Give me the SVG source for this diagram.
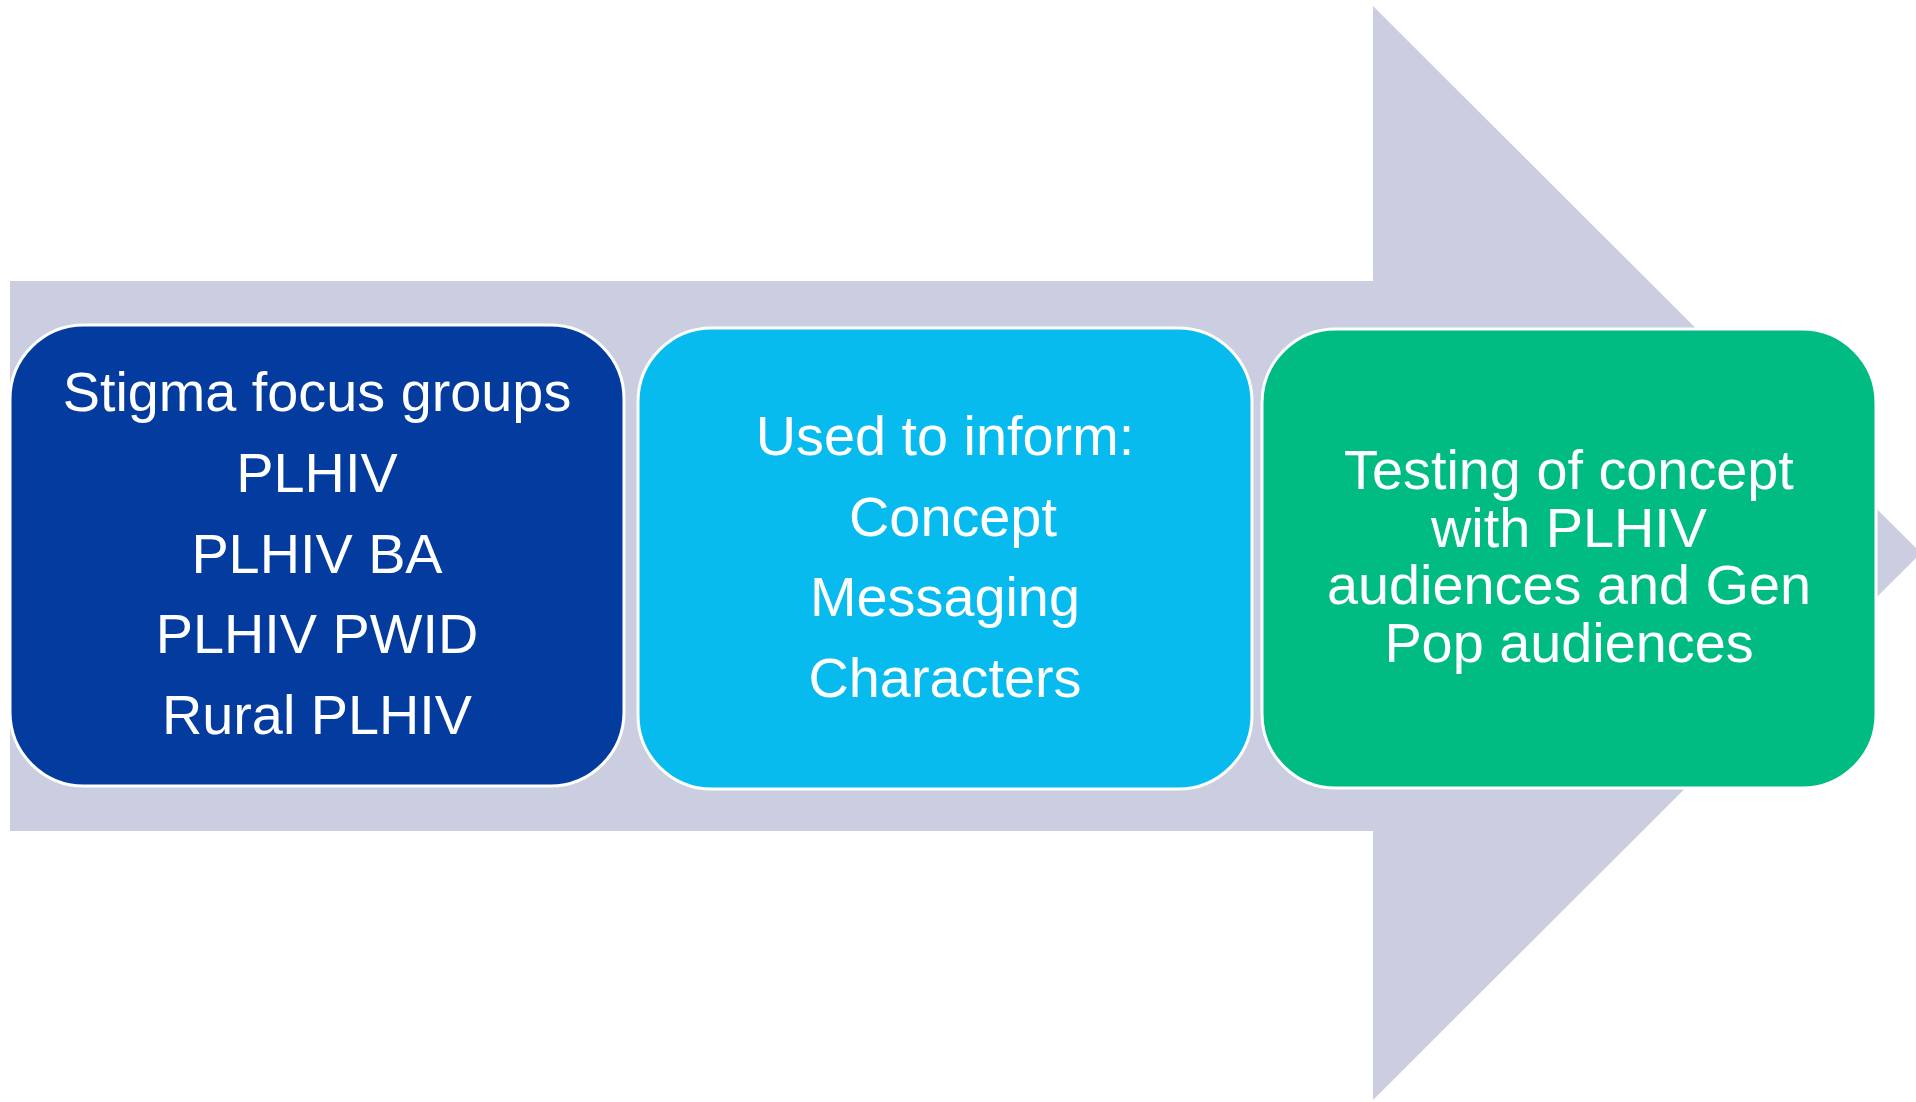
<svg xmlns="http://www.w3.org/2000/svg" width="1916" height="1102" viewBox="0 0 1916 1102">
<style>
.box{stroke:#ffffff;stroke-width:3}
.t{font-family:"Liberation Sans",Arial,sans-serif;font-size:55.8px;fill:#ffffff;text-anchor:middle}
</style>
<rect width="1916" height="1102" fill="#ffffff"/>
<g id="arrow">
<polygon points="10,281 1373,281 1373,6 1921,553 1373,1100 1373,831 10,831" fill="#cbcee0"/>
</g>
<g id="connectors"></g>
<g id="node1">
<rect class="box" x="10" y="325" width="614" height="461" rx="74" ry="74" fill="#033c9e"/>
<text class="t" x="317" y="411">Stigma focus groups</text>
<text class="t" x="317" y="492">PLHIV</text>
<text class="t" x="317" y="573">PLHIV BA</text>
<text class="t" x="317" y="653">PLHIV PWID</text>
<text class="t" x="317" y="734">Rural PLHIV</text>
</g>
<g id="node2">
<rect class="box" x="638" y="328" width="614" height="461" rx="74" ry="74" fill="#08bbee"/>
<text class="t" x="945" y="455">Used to inform:</text>
<text class="t" x="953" y="536">Concept</text>
<text class="t" x="945" y="616">Messaging</text>
<text class="t" x="945" y="697">Characters</text>
</g>
<g id="node3">
<rect class="box" x="1262" y="329" width="614" height="459" rx="74" ry="74" fill="#00bb82"/>
<text class="t" x="1569" y="489">Testing of concept</text>
<text class="t" x="1569" y="547">with PLHIV</text>
<text class="t" x="1569" y="604">audiences and Gen</text>
<text class="t" x="1569" y="662">Pop audiences</text>
</g>
</svg>
